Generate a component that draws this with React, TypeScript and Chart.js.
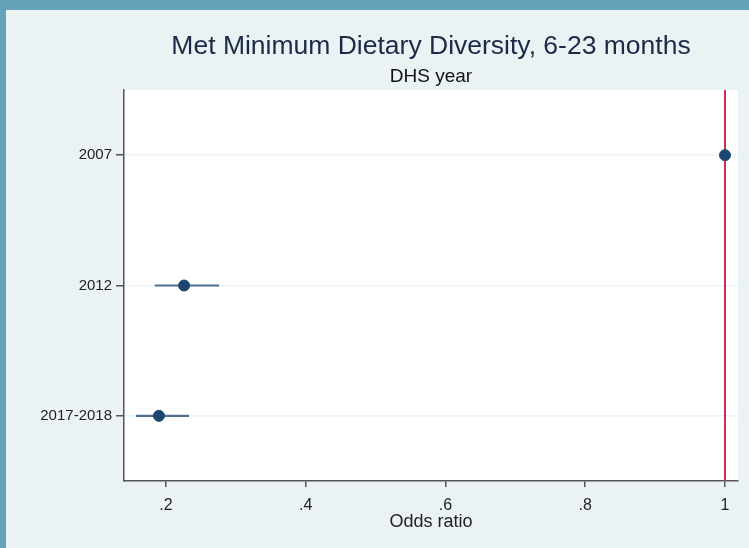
import React, { useEffect, useRef } from "react";
import { Chart, registerables } from "chart.js";

Chart.register(...registerables);

const categories = ["2007", "2012", "2017-2018"];
const oddsRatio = [1, 0.226, 0.19];
const ciLow = [1, 0.184, 0.157];
const ciHigh = [1, 0.276, 0.233];
const xTicks = [0.2, 0.4, 0.6, 0.8, 1];
const titleText = "Met Minimum Dietary Diversity, 6-23 months";
const subtitleText = "DHS year";
const xTitle = "Odds ratio";
const referenceValue = 1;

const FONT = "'Liberation Sans', Arial, sans-serif";

const fmt = (v: number) => {
  const s = String(Math.round(v * 100) / 100);
  return s.startsWith("0.") ? s.slice(1) : s;
};

const forestPlugin = {
  id: "forest",
  beforeDatasetsDraw(chart: any) {
    const { ctx, chartArea, scales } = chart;
    const xs = scales.x;
    const ys = scales.y;
    ctx.save();
    ctx.strokeStyle = "#4f6f8f";
    ctx.lineWidth = 2.2;
    categories.forEach((_, i) => {
      const y = ys.getPixelForValue(i + 1);
      ctx.beginPath();
      ctx.moveTo(xs.getPixelForValue(ciLow[i]), y);
      ctx.lineTo(xs.getPixelForValue(ciHigh[i]), y);
      ctx.stroke();
    });
    const rx = xs.getPixelForValue(referenceValue);
    ctx.strokeStyle = "#cf2f4f";
    ctx.lineWidth = 2;
    ctx.beginPath();
    ctx.moveTo(rx, chartArea.top);
    ctx.lineTo(rx, chartArea.bottom);
    ctx.stroke();
    ctx.restore();
  },
  beforeDraw(chart: any) {
    const { ctx, chartArea } = chart;
    ctx.save();
    ctx.fillStyle = "#ffffff";
    ctx.fillRect(chartArea.left, chartArea.top, chartArea.right - chartArea.left, chartArea.bottom - chartArea.top);
    const cx = (chartArea.left + chartArea.right) / 2;
    ctx.textAlign = "center";
    ctx.textBaseline = "middle";
    ctx.fillStyle = "#1c2a48";
    ctx.font = `26.5px ${FONT}`;
    ctx.fillText(titleText, cx, 47);
    ctx.fillStyle = "#111111";
    ctx.font = `19px ${FONT}`;
    ctx.fillText(subtitleText, cx, 77);
    ctx.restore();
  },
};

export default function App() {
  const ref = useRef<HTMLCanvasElement | null>(null);
  useEffect(() => {
    if (!ref.current) return;
    const chart = new Chart(ref.current, {
      type: "scatter",
      data: {
        datasets: [
          {
            data: oddsRatio.map((v, i) => ({ x: v, y: i + 1 })),
            backgroundColor: "#1a476f",
            borderColor: "#1a476f",
            pointRadius: 5.5,
            pointHoverRadius: 5.5,
          },
        ],
      },
      options: {
        animation: false,
        responsive: false,
        devicePixelRatio: 1,
        layout: { padding: { top: 90, right: 11, left: 0, bottom: 0 } },
        plugins: { legend: { display: false }, tooltip: { enabled: false }, title: { display: false } },
        scales: {
          x: {
            type: "linear",
            min: 0.14,
            max: 1.0186,
            afterBuildTicks: (s: any) => {
              s.ticks = xTicks.map((v) => ({ value: v }));
            },
            afterFit: (s: any) => {
              s.height = 67;
            },
            ticks: {
              callback: (v: any) => fmt(Number(v)),
              color: "#222",
              font: { family: FONT, size: 16 },
              padding: 9,
              maxRotation: 0,
            },
            grid: { drawOnChartArea: false, drawTicks: true, tickLength: 6, tickColor: "#555", lineWidth: 1.5 },
            border: { display: true, color: "#555", width: 1.5 },
            title: {
              display: true,
              text: xTitle,
              color: "#222",
              font: { family: FONT, size: 18 },
              padding: { top: 0, bottom: 15 },
            },
          },
          y: {
            type: "linear",
            min: 0.5,
            max: 3.5,
            reverse: true,
            afterBuildTicks: (s: any) => {
              s.ticks = categories.map((_, i) => ({ value: i + 1 }));
            },
            afterFit: (s: any) => {
              s.width = 124;
            },
            ticks: {
              callback: (v: any) => categories[Number(v) - 1] ?? "",
              color: "#222",
              font: { family: FONT, size: 15 },
              padding: 4,
            },
            grid: { color: "#edf3f5", lineWidth: 1.5, drawTicks: true, tickLength: 8, tickColor: "#555" },
            border: { display: true, color: "#555", width: 1.5 },
          },
        },
      },
      plugins: [forestPlugin],
    });
    return () => chart.destroy();
  }, []);

  return (
    <div style={{ position: "absolute", left: 0, top: 0, width: 749, height: 548, background: "#65a3ba", overflow: "hidden" }}>
      <div style={{ position: "absolute", left: 6, top: 10, right: 0, bottom: 0, background: "#eaf2f4" }} />
      <canvas ref={ref} width={749} height={548} style={{ position: "absolute", left: 0, top: 0, width: 749, height: 548 }} />
    </div>
  );
}
